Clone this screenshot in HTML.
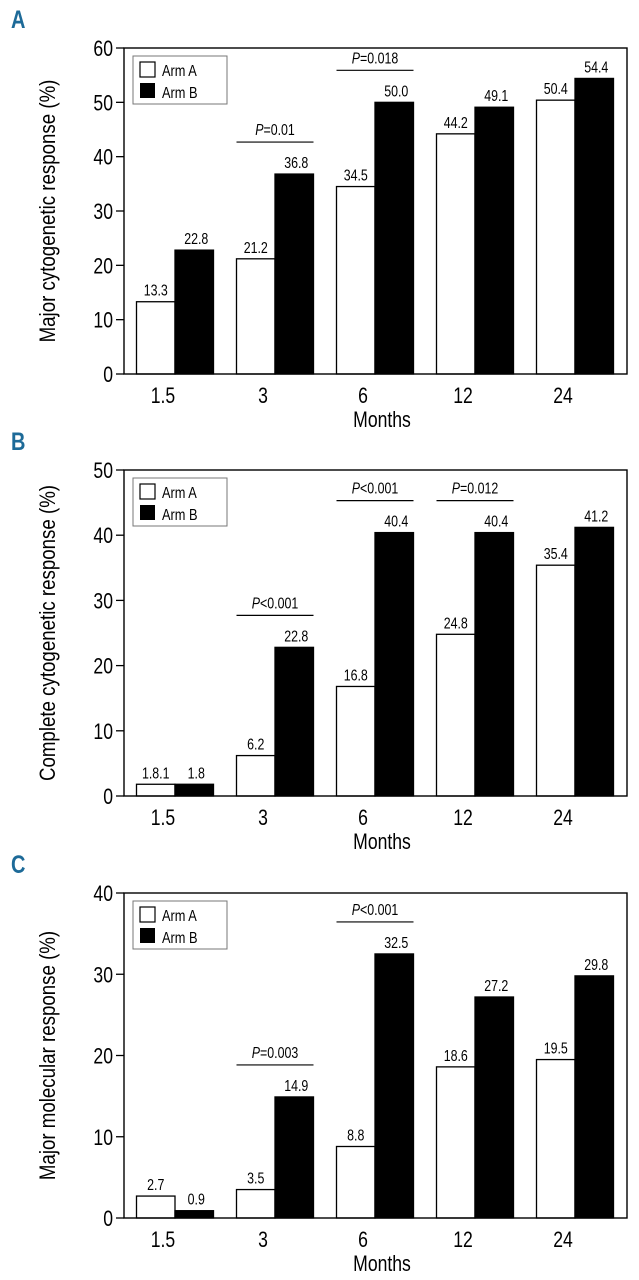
<!DOCTYPE html>
<html><head><meta charset="utf-8"><style>
html,body{margin:0;padding:0;background:#fff;}
svg{display:block;font-family:"Liberation Sans",sans-serif;}
</style></head><body>
<svg id="fig" width="639" height="1280" viewBox="0 0 639 1280" xmlns="http://www.w3.org/2000/svg"></svg>
<script>
const categories = ["1.5","3","6","12","24"];
const armA_A = [13.3,21.2,34.5,44.2,50.4];
const armB_A = [22.8,36.8,50.0,49.1,54.4];
const labA_A = ["13.3","21.2","34.5","44.2","50.4"];
const labB_A = ["22.8","36.8","50.0","49.1","54.4"];
const ticks_A = [0,10,20,30,40,50,60];
const pvals_A = [[1,"=0.01"],[2,"=0.018"]];

const armA_B = [1.8,6.2,16.8,24.8,35.4];
const armB_B = [1.8,22.8,40.4,40.4,41.2];
const labA_B = ["1.8.1","6.2","16.8","24.8","35.4"];
const labB_B = ["1.8","22.8","40.4","40.4","41.2"];
const ticks_B = [0,10,20,30,40,50];
const pvals_B = [[1,"<0.001"],[2,"<0.001"],[3,"=0.012"]];

const armA_C = [2.7,3.5,8.8,18.6,19.5];
const armB_C = [0.9,14.9,32.5,27.2,29.8];
const labA_C = ["2.7","3.5","8.8","18.6","19.5"];
const labB_C = ["0.9","14.9","32.5","27.2","29.8"];
const ticks_C = [0,10,20,30,40];
const pvals_C = [[1,"=0.003"],[2,"<0.001"]];

const NS="http://www.w3.org/2000/svg";
const svg=document.getElementById('fig');
const SX=0.8;
function mk(tag,attrs,parent,text){const e=document.createElementNS(NS,tag);for(const k in attrs)e.setAttribute(k,attrs[k]);if(text!==undefined)e.textContent=text;(parent||svg).appendChild(e);return e;}
function txt(x,y,size,anchor,str,parent,extra){
  const a=Object.assign({x:0,y:0,'font-size':size,'text-anchor':anchor,transform:`translate(${x},${y}) scale(${SX},1)`},extra||{});
  return mk('text',a,parent,str);
}

function panel(id,letter,top,bottom,ticks,aVals,bVals,aLab,bLab,pvals,ytitle){
  const L=124,R=627,ymax=ticks[ticks.length-1];
  const y=v=>bottom-(v/ymax)*(bottom-top);
  const xc=i=>175+i*100;
  const bw=38.5;
  const g=mk('g',{});
  
  
  const pl=txt(11,top-20,25,'start',letter,g,{'font-weight':'bold',fill:'#1d6a98'});
  
  
  for(let i=0;i<categories.length;i++){
    const ra=mk('rect',{x:xc(i)-bw,y:y(aVals[i]),width:bw,height:bottom-y(aVals[i]),fill:'#fff',stroke:'#000','stroke-width':1.3},g);
    
    
    const rb=mk('rect',{x:xc(i),y:y(bVals[i]),width:bw,height:bottom-y(bVals[i]),fill:'#000',stroke:'#000','stroke-width':1.3},g);
    
    
    const ta=txt(xc(i)-bw/2,y(aVals[i])-6,15.5,'middle',aLab[i],g);
    
    
    const tb=txt(xc(i)+bw/2+2,y(bVals[i])-6,15.5,'middle',bLab[i],g);
    
    
    const tx=txt(xc(i)-12,bottom+29,22,'middle',categories[i],g);
    
    
  }
  const fr=mk('rect',{x:L,y:top,width:R-L,height:bottom-top,fill:'none',stroke:'#000','stroke-width':1.4},g);
  
  
  ticks.forEach(t=>{
    const tl=mk('line',{x1:L-8,x2:L,y1:y(t),y2:y(t),stroke:'#000','stroke-width':1.3},g);
    
    
    const tt=txt(L-11,y(t)+8,22,'end',String(t),g);
    
    
  });
  pvals.forEach(p=>{
    const i=p[0];
    const ly=y(Math.max(aVals[i],bVals[i]))-32;
    const ln=mk('line',{x1:xc(i)-bw,x2:xc(i)+bw,y1:ly,y2:ly,stroke:'#000','stroke-width':1.2},g);
    
    
    const t=txt(xc(i),ly-7,15.5,'middle',undefined,g);
    
    
    mk('tspan',{'font-style':'italic'},t,'P');
    mk('tspan',{},t,p[1]);
  });
  const lg=mk('g',{},g);
  
  
  mk('rect',{x:133,y:top+8,width:94,height:48,fill:'#fff',stroke:'#777','stroke-width':1},lg);
  mk('rect',{x:140,y:top+14,width:15,height:15,fill:'#fff',stroke:'#000','stroke-width':1.2},lg);
  mk('rect',{x:140,y:top+35,width:15,height:15,fill:'#000'},lg);
  txt(162,top+28,16,'start','Arm A',lg);
  txt(162,top+50,16,'start','Arm B',lg);
  const xt=txt(382,bottom+53,22,'middle','Months',g);
  
  
  const cy=(top+bottom)/2;
  const yt=mk('text',{x:0,y:0,'font-size':22,'text-anchor':'middle',transform:`translate(55,${cy}) rotate(-90) scale(0.85,1)`},g,ytitle);
  
  
}
panel('a','A',48,374,ticks_A,armA_A,armB_A,labA_A,labB_A,pvals_A,'Major cytogenetic response (%)');
panel('b','B',470,796,ticks_B,armA_B,armB_B,labA_B,labB_B,pvals_B,'Complete cytogenetic response (%)');
panel('c','C',893,1218,ticks_C,armA_C,armB_C,labA_C,labB_C,pvals_C,'Major molecular response (%)');
</script>
</body></html>
